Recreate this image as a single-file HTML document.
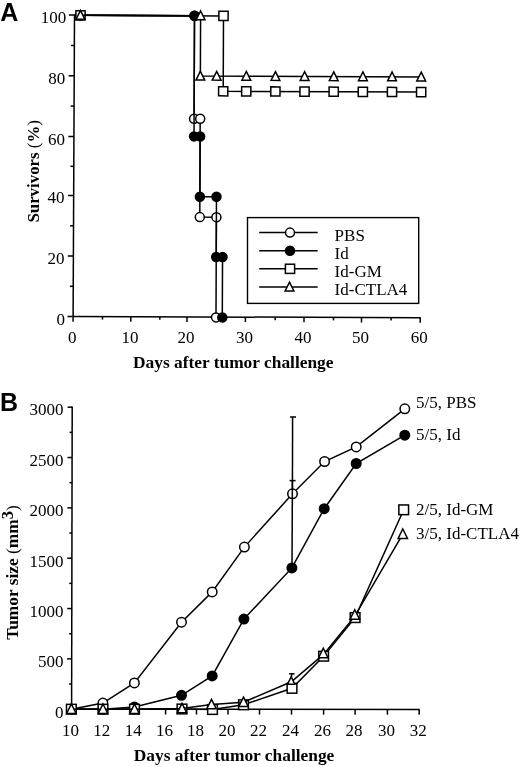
<!DOCTYPE html>
<html><head><meta charset="utf-8"><title>Figure</title>
<style>
html,body{margin:0;padding:0;background:#fff;width:520px;height:767px;overflow:hidden}
svg{display:block;will-change:transform}
text{font-family:"Liberation Serif", serif;fill:#000}
</style></head><body>
<svg width="520" height="767" viewBox="0 0 520 767">
<rect width="520" height="767" fill="#fff"/>
<line x1="74.50" y1="14.30" x2="73.08" y2="321.80" stroke="#000" stroke-width="1.5"/>
<line x1="73.10" y1="316.50" x2="420.80" y2="317.70" stroke="#000" stroke-width="1.5"/>
<line x1="67.50" y1="316.50" x2="73.10" y2="316.50" stroke="#000" stroke-width="1.5"/>
<line x1="69.84" y1="286.30" x2="73.24" y2="286.30" stroke="#000" stroke-width="1.5"/>
<line x1="67.78" y1="256.00" x2="73.38" y2="256.00" stroke="#000" stroke-width="1.5"/>
<line x1="70.12" y1="225.80" x2="73.52" y2="225.80" stroke="#000" stroke-width="1.5"/>
<line x1="68.06" y1="195.50" x2="73.66" y2="195.50" stroke="#000" stroke-width="1.5"/>
<line x1="70.40" y1="166.30" x2="73.80" y2="166.30" stroke="#000" stroke-width="1.5"/>
<line x1="68.34" y1="136.50" x2="73.94" y2="136.50" stroke="#000" stroke-width="1.5"/>
<line x1="70.68" y1="106.10" x2="74.08" y2="106.10" stroke="#000" stroke-width="1.5"/>
<line x1="68.62" y1="75.80" x2="74.22" y2="75.80" stroke="#000" stroke-width="1.5"/>
<line x1="70.96" y1="45.50" x2="74.36" y2="45.50" stroke="#000" stroke-width="1.5"/>
<line x1="68.90" y1="15.00" x2="74.50" y2="15.00" stroke="#000" stroke-width="1.5"/>
<line x1="102.50" y1="316.60" x2="102.50" y2="319.60" stroke="#000" stroke-width="1.5"/>
<line x1="130.80" y1="316.70" x2="130.80" y2="321.70" stroke="#000" stroke-width="1.5"/>
<line x1="159.80" y1="316.80" x2="159.80" y2="319.80" stroke="#000" stroke-width="1.5"/>
<line x1="187.00" y1="316.89" x2="187.00" y2="321.89" stroke="#000" stroke-width="1.5"/>
<line x1="216.20" y1="316.99" x2="216.20" y2="319.99" stroke="#000" stroke-width="1.5"/>
<line x1="245.40" y1="317.10" x2="245.40" y2="322.10" stroke="#000" stroke-width="1.5"/>
<line x1="275.20" y1="317.20" x2="275.20" y2="320.20" stroke="#000" stroke-width="1.5"/>
<line x1="304.00" y1="317.30" x2="304.00" y2="322.30" stroke="#000" stroke-width="1.5"/>
<line x1="333.50" y1="317.40" x2="333.50" y2="320.40" stroke="#000" stroke-width="1.5"/>
<line x1="361.50" y1="317.50" x2="361.50" y2="322.50" stroke="#000" stroke-width="1.5"/>
<line x1="391.10" y1="317.60" x2="391.10" y2="320.60" stroke="#000" stroke-width="1.5"/>
<line x1="420.20" y1="317.70" x2="420.20" y2="322.70" stroke="#000" stroke-width="1.5"/>
<text x="64.90" y="324.90" font-size="17" text-anchor="end" font-weight="normal" >0</text>
<text x="64.60" y="263.60" font-size="17" text-anchor="end" font-weight="normal" >20</text>
<text x="64.60" y="203.30" font-size="17" text-anchor="end" font-weight="normal" >40</text>
<text x="65.00" y="144.50" font-size="17" text-anchor="end" font-weight="normal" >60</text>
<text x="65.20" y="83.80" font-size="17" text-anchor="end" font-weight="normal" >80</text>
<text x="66.30" y="23.10" font-size="17" text-anchor="end" font-weight="normal" >100</text>
<text x="72.20" y="342.60" font-size="17" text-anchor="middle" font-weight="normal" >0</text>
<text x="129.90" y="342.60" font-size="17" text-anchor="middle" font-weight="normal" >10</text>
<text x="186.10" y="342.60" font-size="17" text-anchor="middle" font-weight="normal" >20</text>
<text x="244.50" y="342.60" font-size="17" text-anchor="middle" font-weight="normal" >30</text>
<text x="303.10" y="342.60" font-size="17" text-anchor="middle" font-weight="normal" >40</text>
<text x="360.60" y="342.60" font-size="17" text-anchor="middle" font-weight="normal" >50</text>
<text x="419.30" y="342.60" font-size="17" text-anchor="middle" font-weight="normal" >60</text>
<g transform="rotate(0.23 247 166)">
<polyline points="79.90,16.00 193.90,16.00 193.90,118.90 200.00,118.90 200.00,217.30 216.60,217.30 216.60,317.50" fill="none" stroke="#000" stroke-width="1.5"/>
<circle cx="79.90" cy="16.00" r="4.5" fill="#fff" stroke="#000" stroke-width="1.5"/>
<circle cx="193.90" cy="16.00" r="4.5" fill="#fff" stroke="#000" stroke-width="1.5"/>
<circle cx="193.90" cy="118.90" r="4.5" fill="#fff" stroke="#000" stroke-width="1.5"/>
<circle cx="200.00" cy="118.90" r="4.5" fill="#fff" stroke="#000" stroke-width="1.5"/>
<circle cx="200.00" cy="217.30" r="4.5" fill="#fff" stroke="#000" stroke-width="1.5"/>
<circle cx="216.60" cy="217.30" r="4.5" fill="#fff" stroke="#000" stroke-width="1.5"/>
<circle cx="216.60" cy="317.50" r="4.5" fill="#fff" stroke="#000" stroke-width="1.5"/>
<polyline points="79.90,16.00 193.90,16.00 193.90,136.60 200.00,136.60 200.00,196.90 216.60,196.90 216.60,257.20 222.90,257.20 222.90,317.50" fill="none" stroke="#000" stroke-width="1.5"/>
<circle cx="79.90" cy="16.00" r="4.5" fill="#000" stroke="#000" stroke-width="1.5"/>
<circle cx="193.90" cy="16.00" r="4.5" fill="#000" stroke="#000" stroke-width="1.5"/>
<circle cx="193.90" cy="136.60" r="4.5" fill="#000" stroke="#000" stroke-width="1.5"/>
<circle cx="200.00" cy="136.60" r="4.5" fill="#000" stroke="#000" stroke-width="1.5"/>
<circle cx="200.00" cy="196.90" r="4.5" fill="#000" stroke="#000" stroke-width="1.5"/>
<circle cx="216.60" cy="196.90" r="4.5" fill="#000" stroke="#000" stroke-width="1.5"/>
<circle cx="216.60" cy="257.20" r="4.5" fill="#000" stroke="#000" stroke-width="1.5"/>
<circle cx="222.90" cy="257.20" r="4.5" fill="#000" stroke="#000" stroke-width="1.5"/>
<circle cx="222.90" cy="317.50" r="4.5" fill="#000" stroke="#000" stroke-width="1.5"/>
<polyline points="79.90,16.00 222.90,16.00 222.90,91.38 420.85,91.38" fill="none" stroke="#000" stroke-width="1.5"/>
<rect x="75.30" y="11.40" width="9.2" height="9.2" fill="#fff" stroke="#000" stroke-width="1.5"/>
<rect x="218.30" y="11.40" width="9.2" height="9.2" fill="#fff" stroke="#000" stroke-width="1.5"/>
<rect x="218.30" y="86.78" width="9.2" height="9.2" fill="#fff" stroke="#000" stroke-width="1.5"/>
<rect x="241.35" y="86.78" width="9.2" height="9.2" fill="#fff" stroke="#000" stroke-width="1.5"/>
<rect x="270.50" y="86.78" width="9.2" height="9.2" fill="#fff" stroke="#000" stroke-width="1.5"/>
<rect x="299.65" y="86.78" width="9.2" height="9.2" fill="#fff" stroke="#000" stroke-width="1.5"/>
<rect x="328.80" y="86.78" width="9.2" height="9.2" fill="#fff" stroke="#000" stroke-width="1.5"/>
<rect x="357.95" y="86.78" width="9.2" height="9.2" fill="#fff" stroke="#000" stroke-width="1.5"/>
<rect x="387.10" y="86.78" width="9.2" height="9.2" fill="#fff" stroke="#000" stroke-width="1.5"/>
<rect x="416.25" y="86.78" width="9.2" height="9.2" fill="#fff" stroke="#000" stroke-width="1.5"/>
<polyline points="79.90,16.00 200.00,16.00 200.00,76.30 420.85,76.30" fill="none" stroke="#000" stroke-width="1.5"/>
<path d="M79.90,11.16 L84.30,19.96 L75.50,19.96 Z" fill="#fff" stroke="#000" stroke-width="1.5" stroke-linejoin="miter"/>
<path d="M200.00,11.16 L204.40,19.96 L195.60,19.96 Z" fill="#fff" stroke="#000" stroke-width="1.5" stroke-linejoin="miter"/>
<path d="M200.00,71.46 L204.40,80.26 L195.60,80.26 Z" fill="#fff" stroke="#000" stroke-width="1.5" stroke-linejoin="miter"/>
<path d="M216.30,71.46 L220.70,80.26 L211.90,80.26 Z" fill="#fff" stroke="#000" stroke-width="1.5" stroke-linejoin="miter"/>
<path d="M245.95,71.46 L250.35,80.26 L241.55,80.26 Z" fill="#fff" stroke="#000" stroke-width="1.5" stroke-linejoin="miter"/>
<path d="M275.10,71.46 L279.50,80.26 L270.70,80.26 Z" fill="#fff" stroke="#000" stroke-width="1.5" stroke-linejoin="miter"/>
<path d="M304.25,71.46 L308.65,80.26 L299.85,80.26 Z" fill="#fff" stroke="#000" stroke-width="1.5" stroke-linejoin="miter"/>
<path d="M333.40,71.46 L337.80,80.26 L329.00,80.26 Z" fill="#fff" stroke="#000" stroke-width="1.5" stroke-linejoin="miter"/>
<path d="M362.55,71.46 L366.95,80.26 L358.15,80.26 Z" fill="#fff" stroke="#000" stroke-width="1.5" stroke-linejoin="miter"/>
<path d="M391.70,71.46 L396.10,80.26 L387.30,80.26 Z" fill="#fff" stroke="#000" stroke-width="1.5" stroke-linejoin="miter"/>
<path d="M420.85,71.46 L425.25,80.26 L416.45,80.26 Z" fill="#fff" stroke="#000" stroke-width="1.5" stroke-linejoin="miter"/>
</g>
<text x="133.00" y="368.20" font-size="17" text-anchor="start" font-weight="bold" textLength="200.5" lengthAdjust="spacingAndGlyphs">Days after tumor challenge</text>
<text transform="translate(39.3 222.6) rotate(-90)" font-size="17" font-weight="bold" textLength="102.5" lengthAdjust="spacingAndGlyphs">Survivors <tspan font-weight="normal">(</tspan>%<tspan font-weight="normal">)</tspan></text>
<rect x="247.5" y="217.6" width="171.2" height="85.8" fill="#fff" stroke="#000" stroke-width="1.4"/>
<line x1="259.20" y1="232.60" x2="317.70" y2="232.60" stroke="#000" stroke-width="1.5"/>
<circle cx="290.00" cy="232.60" r="4.5" fill="#fff" stroke="#000" stroke-width="1.5"/>
<text x="334.60" y="240.60" font-size="17" text-anchor="start" font-weight="normal" >PBS</text>
<line x1="259.20" y1="250.80" x2="317.70" y2="250.80" stroke="#000" stroke-width="1.5"/>
<circle cx="290.00" cy="250.80" r="4.5" fill="#000" stroke="#000" stroke-width="1.5"/>
<text x="334.60" y="258.80" font-size="17" text-anchor="start" font-weight="normal" >Id</text>
<line x1="259.20" y1="268.80" x2="317.70" y2="268.80" stroke="#000" stroke-width="1.5"/>
<rect x="285.40" y="264.20" width="9.2" height="9.2" fill="#fff" stroke="#000" stroke-width="1.5"/>
<text x="334.60" y="276.80" font-size="17" text-anchor="start" font-weight="normal" >Id-GM</text>
<line x1="259.20" y1="287.00" x2="317.70" y2="287.00" stroke="#000" stroke-width="1.5"/>
<path d="M289.50,282.16 L293.90,290.96 L285.10,290.96 Z" fill="#fff" stroke="#000" stroke-width="1.5" stroke-linejoin="miter"/>
<text x="334.60" y="295.00" font-size="17" text-anchor="start" font-weight="normal" >Id-CTLA4</text>
<text x="0.20" y="20.50" font-size="25" text-anchor="start" font-weight="bold" style="font-family:'Liberation Sans', sans-serif">A</text>
<line x1="72.20" y1="406.50" x2="71.60" y2="709.90" stroke="#000" stroke-width="1.5"/>
<line x1="71.00" y1="709.20" x2="419.80" y2="709.50" stroke="#000" stroke-width="1.5"/>
<line x1="67.00" y1="709.20" x2="71.60" y2="709.20" stroke="#000" stroke-width="1.5"/>
<line x1="69.05" y1="684.03" x2="71.65" y2="684.03" stroke="#000" stroke-width="1.5"/>
<line x1="67.10" y1="658.87" x2="71.70" y2="658.87" stroke="#000" stroke-width="1.5"/>
<line x1="69.15" y1="633.70" x2="71.75" y2="633.70" stroke="#000" stroke-width="1.5"/>
<line x1="67.20" y1="608.53" x2="71.80" y2="608.53" stroke="#000" stroke-width="1.5"/>
<line x1="69.25" y1="583.36" x2="71.85" y2="583.36" stroke="#000" stroke-width="1.5"/>
<line x1="67.30" y1="558.20" x2="71.90" y2="558.20" stroke="#000" stroke-width="1.5"/>
<line x1="69.35" y1="533.03" x2="71.95" y2="533.03" stroke="#000" stroke-width="1.5"/>
<line x1="67.40" y1="507.86" x2="72.00" y2="507.86" stroke="#000" stroke-width="1.5"/>
<line x1="69.45" y1="482.69" x2="72.05" y2="482.69" stroke="#000" stroke-width="1.5"/>
<line x1="67.50" y1="457.53" x2="72.10" y2="457.53" stroke="#000" stroke-width="1.5"/>
<line x1="69.55" y1="432.36" x2="72.15" y2="432.36" stroke="#000" stroke-width="1.5"/>
<line x1="67.60" y1="407.19" x2="72.20" y2="407.19" stroke="#000" stroke-width="1.5"/>
<line x1="71.60" y1="709.20" x2="71.60" y2="714.40" stroke="#000" stroke-width="1.5"/>
<line x1="102.80" y1="709.23" x2="102.80" y2="714.43" stroke="#000" stroke-width="1.5"/>
<line x1="134.30" y1="709.25" x2="134.30" y2="714.45" stroke="#000" stroke-width="1.5"/>
<line x1="165.60" y1="709.28" x2="165.60" y2="714.48" stroke="#000" stroke-width="1.5"/>
<line x1="196.50" y1="709.31" x2="196.50" y2="714.51" stroke="#000" stroke-width="1.5"/>
<line x1="228.00" y1="709.33" x2="228.00" y2="714.53" stroke="#000" stroke-width="1.5"/>
<line x1="259.50" y1="709.36" x2="259.50" y2="714.56" stroke="#000" stroke-width="1.5"/>
<line x1="291.50" y1="709.39" x2="291.50" y2="714.59" stroke="#000" stroke-width="1.5"/>
<line x1="323.60" y1="709.42" x2="323.60" y2="714.62" stroke="#000" stroke-width="1.5"/>
<line x1="355.10" y1="709.44" x2="355.10" y2="714.64" stroke="#000" stroke-width="1.5"/>
<line x1="387.40" y1="709.47" x2="387.40" y2="714.67" stroke="#000" stroke-width="1.5"/>
<line x1="419.20" y1="709.50" x2="419.20" y2="714.70" stroke="#000" stroke-width="1.5"/>
<text x="63.60" y="717.50" font-size="17" text-anchor="end" font-weight="normal" >0</text>
<text x="63.60" y="667.16" font-size="17" text-anchor="end" font-weight="normal" >500</text>
<text x="63.60" y="616.83" font-size="17" text-anchor="end" font-weight="normal" >1000</text>
<text x="63.60" y="566.50" font-size="17" text-anchor="end" font-weight="normal" >1500</text>
<text x="63.60" y="516.16" font-size="17" text-anchor="end" font-weight="normal" >2000</text>
<text x="63.60" y="465.83" font-size="17" text-anchor="end" font-weight="normal" >2500</text>
<text x="63.60" y="415.49" font-size="17" text-anchor="end" font-weight="normal" >3000</text>
<text x="70.60" y="736.30" font-size="17" text-anchor="middle" font-weight="normal" >10</text>
<text x="101.80" y="736.30" font-size="17" text-anchor="middle" font-weight="normal" >12</text>
<text x="133.30" y="736.30" font-size="17" text-anchor="middle" font-weight="normal" >14</text>
<text x="164.60" y="736.30" font-size="17" text-anchor="middle" font-weight="normal" >16</text>
<text x="195.50" y="736.30" font-size="17" text-anchor="middle" font-weight="normal" >18</text>
<text x="227.00" y="736.30" font-size="17" text-anchor="middle" font-weight="normal" >20</text>
<text x="258.50" y="736.30" font-size="17" text-anchor="middle" font-weight="normal" >22</text>
<text x="290.50" y="736.30" font-size="17" text-anchor="middle" font-weight="normal" >24</text>
<text x="322.60" y="736.30" font-size="17" text-anchor="middle" font-weight="normal" >26</text>
<text x="354.10" y="736.30" font-size="17" text-anchor="middle" font-weight="normal" >28</text>
<text x="386.40" y="736.30" font-size="17" text-anchor="middle" font-weight="normal" >30</text>
<text x="418.20" y="736.30" font-size="17" text-anchor="middle" font-weight="normal" >32</text>
<line x1="292.60" y1="417.00" x2="292.40" y2="494.00" stroke="#000" stroke-width="1.5"/>
<line x1="290.00" y1="417.00" x2="296.00" y2="417.00" stroke="#000" stroke-width="1.5"/>
<polyline points="71.35,709.20 102.90,703.10 134.40,682.90 181.50,622.20 212.20,591.90 244.40,547.10 292.50,493.80 324.60,461.50 356.20,446.90 404.80,408.80" fill="none" stroke="#000" stroke-width="1.5"/>
<circle cx="71.35" cy="709.20" r="4.75" fill="#fff" stroke="#000" stroke-width="1.5"/>
<circle cx="102.90" cy="703.10" r="4.75" fill="#fff" stroke="#000" stroke-width="1.5"/>
<circle cx="134.40" cy="682.90" r="4.75" fill="#fff" stroke="#000" stroke-width="1.5"/>
<circle cx="181.50" cy="622.20" r="4.75" fill="#fff" stroke="#000" stroke-width="1.5"/>
<circle cx="212.20" cy="591.90" r="4.75" fill="#fff" stroke="#000" stroke-width="1.5"/>
<circle cx="244.40" cy="547.10" r="4.75" fill="#fff" stroke="#000" stroke-width="1.5"/>
<circle cx="292.50" cy="493.80" r="4.75" fill="#fff" stroke="#000" stroke-width="1.5"/>
<circle cx="324.60" cy="461.50" r="4.75" fill="#fff" stroke="#000" stroke-width="1.5"/>
<circle cx="356.20" cy="446.90" r="4.75" fill="#fff" stroke="#000" stroke-width="1.5"/>
<circle cx="404.80" cy="408.80" r="4.75" fill="#fff" stroke="#000" stroke-width="1.5"/>
<line x1="292.40" y1="480.60" x2="292.00" y2="568.00" stroke="#000" stroke-width="1.5"/>
<line x1="289.60" y1="480.60" x2="295.60" y2="480.60" stroke="#000" stroke-width="1.5"/>
<polyline points="71.60,709.20 103.00,709.20 134.40,707.10 181.50,695.30 212.20,675.90 243.90,619.10 291.90,567.90 324.20,508.70 356.20,463.50 404.80,435.20" fill="none" stroke="#000" stroke-width="1.5"/>
<circle cx="71.60" cy="709.20" r="4.75" fill="#000" stroke="#000" stroke-width="1.5"/>
<circle cx="103.00" cy="709.20" r="4.75" fill="#000" stroke="#000" stroke-width="1.5"/>
<circle cx="134.40" cy="707.10" r="4.75" fill="#000" stroke="#000" stroke-width="1.5"/>
<circle cx="181.50" cy="695.30" r="4.75" fill="#000" stroke="#000" stroke-width="1.5"/>
<circle cx="212.20" cy="675.90" r="4.75" fill="#000" stroke="#000" stroke-width="1.5"/>
<circle cx="243.90" cy="619.10" r="4.75" fill="#000" stroke="#000" stroke-width="1.5"/>
<circle cx="291.90" cy="567.90" r="4.75" fill="#000" stroke="#000" stroke-width="1.5"/>
<circle cx="324.20" cy="508.70" r="4.75" fill="#000" stroke="#000" stroke-width="1.5"/>
<circle cx="356.20" cy="463.50" r="4.75" fill="#000" stroke="#000" stroke-width="1.5"/>
<circle cx="404.80" cy="435.20" r="4.75" fill="#000" stroke="#000" stroke-width="1.5"/>
<polyline points="71.35,709.20 103.00,709.20 134.50,709.20 182.00,709.00 212.50,709.50 243.50,704.80 292.00,688.30 323.60,656.20 355.10,617.60 403.70,509.80" fill="none" stroke="#000" stroke-width="1.5"/>
<rect x="66.50" y="704.35" width="9.7" height="9.7" fill="#fff" stroke="#000" stroke-width="1.5"/>
<rect x="98.15" y="704.35" width="9.7" height="9.7" fill="#fff" stroke="#000" stroke-width="1.5"/>
<rect x="129.65" y="704.35" width="9.7" height="9.7" fill="#fff" stroke="#000" stroke-width="1.5"/>
<rect x="177.15" y="704.15" width="9.7" height="9.7" fill="#fff" stroke="#000" stroke-width="1.5"/>
<rect x="207.65" y="704.65" width="9.7" height="9.7" fill="#fff" stroke="#000" stroke-width="1.5"/>
<rect x="238.65" y="699.95" width="9.7" height="9.7" fill="#fff" stroke="#000" stroke-width="1.5"/>
<rect x="287.15" y="683.45" width="9.7" height="9.7" fill="#fff" stroke="#000" stroke-width="1.5"/>
<rect x="318.75" y="651.35" width="9.7" height="9.7" fill="#fff" stroke="#000" stroke-width="1.5"/>
<rect x="350.25" y="612.75" width="9.7" height="9.7" fill="#fff" stroke="#000" stroke-width="1.5"/>
<rect x="398.85" y="504.95" width="9.7" height="9.7" fill="#fff" stroke="#000" stroke-width="1.5"/>
<line x1="291.40" y1="677.00" x2="291.80" y2="673.80" stroke="#000" stroke-width="1.5"/>
<line x1="289.10" y1="673.80" x2="294.50" y2="673.80" stroke="#000" stroke-width="1.5"/>
<polyline points="71.35,709.20 103.00,709.20 134.50,709.20 182.00,708.60 211.50,704.50 243.50,702.30 291.30,681.80 323.30,654.60 354.80,616.10 402.80,534.20" fill="none" stroke="#000" stroke-width="1.5"/>
<path d="M71.35,704.03 L76.05,713.43 L66.65,713.43 Z" fill="#fff" stroke="#000" stroke-width="1.5" stroke-linejoin="miter"/>
<path d="M103.00,704.03 L107.70,713.43 L98.30,713.43 Z" fill="#fff" stroke="#000" stroke-width="1.5" stroke-linejoin="miter"/>
<path d="M134.50,704.03 L139.20,713.43 L129.80,713.43 Z" fill="#fff" stroke="#000" stroke-width="1.5" stroke-linejoin="miter"/>
<path d="M182.00,703.43 L186.70,712.83 L177.30,712.83 Z" fill="#fff" stroke="#000" stroke-width="1.5" stroke-linejoin="miter"/>
<path d="M211.50,699.33 L216.20,708.73 L206.80,708.73 Z" fill="#fff" stroke="#000" stroke-width="1.5" stroke-linejoin="miter"/>
<path d="M243.50,697.13 L248.20,706.53 L238.80,706.53 Z" fill="#fff" stroke="#000" stroke-width="1.5" stroke-linejoin="miter"/>
<path d="M291.20,676.73 L294.80,684.13 L287.60,684.13 Z" fill="#fff" stroke="#000" stroke-width="1.5" stroke-linejoin="miter"/>
<path d="M323.30,648.23 L328.00,657.63 L318.60,657.63 Z" fill="#fff" stroke="#000" stroke-width="1.5" stroke-linejoin="miter"/>
<path d="M354.80,609.73 L359.50,619.13 L350.10,619.13 Z" fill="#fff" stroke="#000" stroke-width="1.5" stroke-linejoin="miter"/>
<path d="M402.80,529.03 L407.50,538.43 L398.10,538.43 Z" fill="#fff" stroke="#000" stroke-width="1.5" stroke-linejoin="miter"/>
<text x="416.00" y="408.30" font-size="17" text-anchor="start" font-weight="normal" >5/5, PBS</text>
<text x="416.00" y="440.30" font-size="17" text-anchor="start" font-weight="normal" >5/5, Id</text>
<text x="416.00" y="514.60" font-size="17" text-anchor="start" font-weight="normal" >2/5, Id-GM</text>
<text x="416.00" y="539.40" font-size="17" text-anchor="start" font-weight="normal" >3/5, Id-CTLA4</text>
<text x="133.80" y="760.60" font-size="17" text-anchor="start" font-weight="bold" textLength="200.5" lengthAdjust="spacingAndGlyphs">Days after tumor challenge</text>
<text transform="translate(17.7 639.8) rotate(-90)" font-size="17.5" font-weight="bold" textLength="134.5" lengthAdjust="spacingAndGlyphs">Tumor size <tspan font-weight="normal">(</tspan>mm<tspan font-size="16.5" dy="-4.8">3</tspan><tspan dy="4.8" font-weight="normal">)</tspan></text>
<text x="0.00" y="411.10" font-size="25" text-anchor="start" font-weight="bold" style="font-family:'Liberation Sans', sans-serif">B</text>
</svg>
</body></html>
